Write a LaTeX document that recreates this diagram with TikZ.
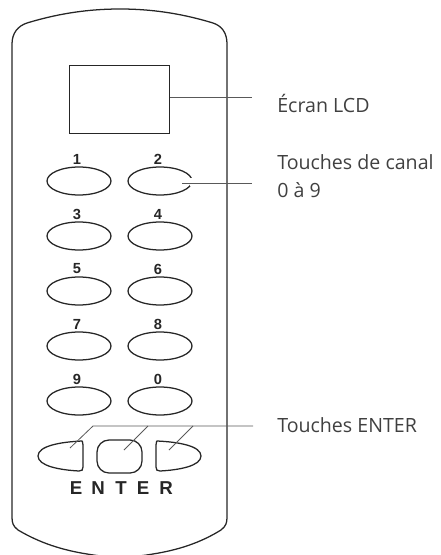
\documentclass[tikz,border=0pt]{standalone}
\usepackage{fontspec}
\setmainfont{Open Sans}
\setsansfont{Liberation Sans}
\usetikzlibrary{shapes,shapes.geometric}
\tikzset{>=stealth}
\tikzset{
  outline/.style={draw=black!85, line width=0.95pt},
  keyoval/.style={outline, ellipse, minimum width=48pt, minimum height=21pt, inner sep=0pt},
  keynum/.style={font=\sffamily\bfseries\fontsize{11}{12}\selectfont, text=black!85, inner sep=0pt},
  keyletter/.style={font=\sffamily\bfseries\fontsize{14}{14}\selectfont, text=black!85, inner sep=0pt},
  leader/.style={draw=black!65, line width=0.6pt},
  caption/.style={font=\fontsize{14.7}{21}\selectfont, text=black!75, inner sep=0pt, anchor=west, align=left}
}
\begin{document}
\begin{tikzpicture}[x=0.75pt,y=-0.75pt]
        \useasboundingbox (0,0) rectangle (441,555);
        \clip (0,0) rectangle (441,555);
        % body
        \draw[outline] (12,517) -- (12,44) .. controls (12,33) and (18,26) .. (27,23)
          .. controls (60,13) and (90,9) .. (120,9)
          .. controls (150,9) and (180,13) .. (213,23)
          .. controls (222,26) and (227,33) .. (227,44) -- (227,517)
          .. controls (227,523) and (226,526) .. (221,530)
          .. controls (200,543) and (178,550) .. (153,554)
          .. controls (130,558) and (110,558) .. (87,554)
          .. controls (62,550) and (40,543) .. (18,530)
          .. controls (13,526) and (12,523) .. (12,517) -- cycle;
        % screen
        \node[outline, minimum width=74.5pt, minimum height=50.5pt, inner sep=0pt] (lcd) at (119.5,99.5) {};
        % number keys
        \foreach \lk/\nk/\yk in {1/2/181,3/4/236,5/6/291,7/8/346,9/0/401}{
          \node[keyoval] (key\lk) at (79,\yk) {};
          \node[keyoval] (key\nk) at (160,\yk) {};
          \node[keynum] (num\lk) at (77,\yk-22) {\lk};
          \node[keynum] (num\nk) at (158,\yk-22) {\nk};
        }
        \draw[white, line width=2pt] (191.5,178) -- (191.5,186);
        % enter keys
        \draw[outline] (82,441) .. controls (60,442) and (38,446) .. (38,456)
          .. controls (38,466) and (60,470) .. (79,471)
          .. controls (82,471) and (83,470) .. (83,467) -- (83,445)
          .. controls (83,442) and (82,441) .. (82,441) -- cycle;
        \draw[outline, rounded corners=9pt] (97,440) rectangle (142,473);
        \draw[outline] (157,441) .. controls (179,442) and (201,446) .. (201,456)
          .. controls (201,466) and (179,470) .. (160,471)
          .. controls (157,471) and (156,470) .. (156,467) -- (156,445)
          .. controls (156,442) and (157,441) .. (157,441) -- cycle;
        \foreach \letter/\xk [count=\ik] in {E/76,N/98,T/121,E/143,R/166}{
          \node[keyletter] (enter\ik) at (\xk,488) {\letter};
        }
        % leaders
        \coordinate (lcdend) at (252,97);
        \coordinate (chanstart) at (182,183);
        \coordinate (chanend) at (252,183);
        \coordinate (enterend) at (253,426);
        \coordinate (enterbend) at (93,426);
        \coordinate (enterleft) at (70,448);
        \coordinate (entermid) at (124,450);
        \coordinate (entermidtop) at (148,426);
        \coordinate (enterright) at (169,450);
        \coordinate (enterrighttop) at (193,426);
        \draw[leader] (lcd.east |- lcdend) -- (lcdend);
        \draw[leader] (chanstart) -- (chanend);
        \draw[leader] (enterleft) -- (enterbend) -- (enterend);
        \draw[leader] (entermid) -- (entermidtop);
        \draw[leader] (enterright) -- (enterrighttop);
        % captions
        \node[caption] (lcdlabel) at (277,103) {Écran LCD};
        \node[caption] (chanlabel) at (277,176) {Touches de canal\\0 à 9};
        \node[caption] (enterlabel) at (277,425) {Touches ENTER};
      \end{tikzpicture}
\end{document}
